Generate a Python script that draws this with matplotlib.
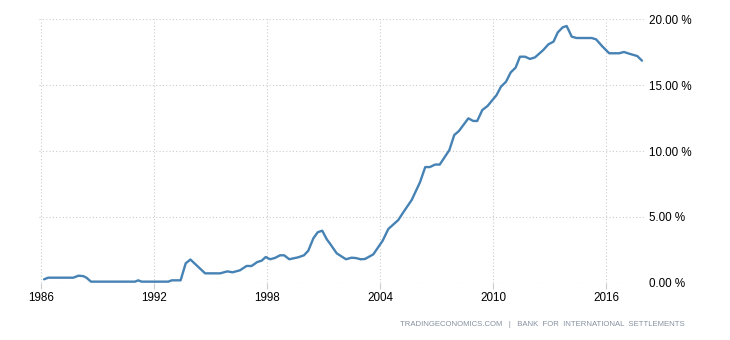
import matplotlib
matplotlib.use("Agg")
import matplotlib.pyplot as plt
from matplotlib.ticker import FuncFormatter

dates = [1986.15, 1986.37, 1987.70, 1987.97, 1988.23, 1988.40, 1988.64, 1990.98,
         1991.15, 1991.33, 1992.75, 1992.93, 1993.40, 1993.67, 1993.92, 1994.70,
         1995.50, 1995.88, 1996.16, 1996.55, 1996.90, 1997.17, 1997.47, 1997.70,
         1997.92, 1998.15, 1998.41, 1998.68, 1998.90, 1999.17, 1999.65, 1999.95,
         2000.18, 2000.45, 2000.68, 2000.92, 2001.16, 2001.33, 2001.69, 2002.18,
         2002.48, 2002.71, 2002.96, 2003.19, 2003.63, 2004.13, 2004.43, 2004.96,
         2005.19, 2005.67, 2006.11, 2006.39, 2006.64, 2006.91, 2007.16, 2007.67,
         2007.93, 2008.18, 2008.68, 2008.94, 2009.15, 2009.42, 2009.70, 2010.18,
         2010.41, 2010.68, 2010.93, 2011.19, 2011.42, 2011.69, 2011.95, 2012.22,
         2012.66, 2012.93, 2013.20, 2013.43, 2013.69, 2013.90, 2014.17, 2014.43,
         2015.23, 2015.46, 2015.81, 2016.16, 2016.69, 2016.94, 2017.22, 2017.65,
         2017.90]
values = [0.26, 0.38, 0.38, 0.53, 0.50, 0.38, 0.08, 0.08,
          0.18, 0.08, 0.08, 0.18, 0.18, 1.47, 1.76, 0.71,
          0.71, 0.86, 0.79, 0.94, 1.27, 1.27, 1.57, 1.67,
          1.95, 1.78, 1.88, 2.08, 2.08, 1.78, 1.93, 2.08,
          2.43, 3.37, 3.83, 3.95, 3.30, 2.97, 2.23, 1.78,
          1.90, 1.87, 1.78, 1.80, 2.15, 3.19, 4.08, 4.76,
          5.27, 6.28, 7.62, 8.78, 8.78, 8.97, 8.97, 10.07,
          11.21, 11.52, 12.48, 12.28, 12.28, 13.11, 13.42, 14.25,
          14.88, 15.26, 15.97, 16.33, 17.16, 17.16, 16.99, 17.11,
          17.67, 18.10, 18.30, 19.01, 19.39, 19.49, 18.68, 18.58,
          18.58, 18.48, 17.92, 17.42, 17.42, 17.52, 17.39, 17.21,
          16.86]
x_ticks = [1986, 1992, 1998, 2004, 2010, 2016]
y_ticks = [0, 5, 10, 15, 20]
source_text = "TRADINGECONOMICS.COM   |   BANK  FOR  INTERNATIONAL  SETTLEMENTS"

FONT = ["Liberation Sans", "DejaVu Sans"]
W, H = 730, 340
fig = plt.figure(figsize=(W / 100, H / 100), dpi=100)
fig.patch.set_facecolor("white")
left, right, top, bottom = 39, 645, 19.3, 282.7
ax = fig.add_axes([left / W, 1 - bottom / H, (right - left) / W, (bottom - top) / H])

ax.plot(dates, values, color="#4682b4", lw=1.7, solid_joinstyle="round", solid_capstyle="round")

ax.set_xlim(1985.88, 2018.06)
ax.set_ylim(0, 20)
ax.set_xticks(x_ticks)
ax.set_xticklabels([str(t) for t in x_ticks])
ax.set_yticks(y_ticks)
ax.yaxis.set_major_formatter(FuncFormatter(lambda v, p: f"{v:.2f} %"))
ax.yaxis.tick_right()

for s in ax.spines.values():
    s.set_visible(False)
ax.grid(True, color="#cccccc", linestyle=(0, (1, 2)), linewidth=0.8)
ax.set_axisbelow(True)
ax.tick_params(axis="x", length=4, width=0.8, color="#cccccc", pad=3, labelsize=8.4, labelcolor="#000000")
ax.tick_params(axis="y", length=0, pad=3, labelsize=8.4, labelcolor="#000000")
for lab in ax.get_xticklabels() + ax.get_yticklabels():
    lab.set_family(FONT)

fig.text(685 / W, 1 - 325 / H, source_text, ha="right", va="center",
         fontsize=5.6, color="#8591a0", family=FONT)

fig.savefig("out.png", dpi=100, facecolor="white")
